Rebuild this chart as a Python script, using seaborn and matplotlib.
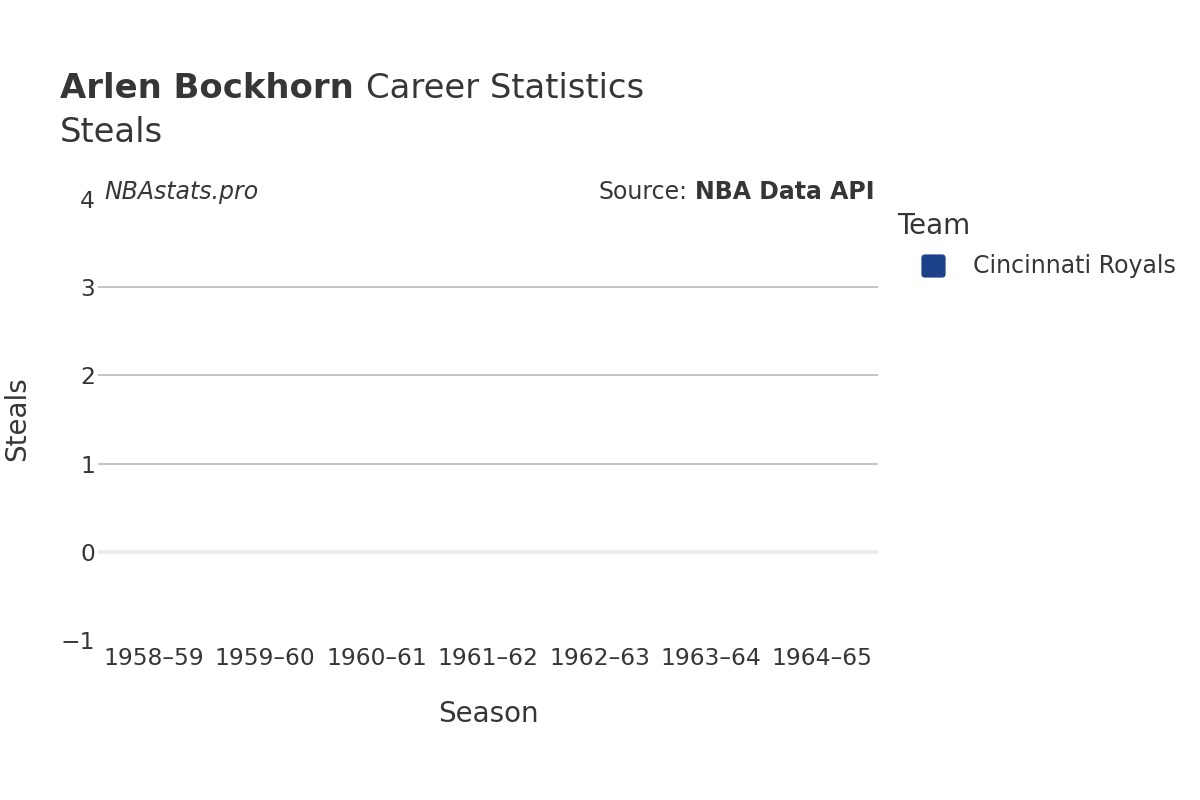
import matplotlib
matplotlib.use("Agg")
import matplotlib.pyplot as plt
from matplotlib.patches import FancyBboxPatch
import pandas as pd
import seaborn as sns

# Data (steals were not recorded in this era -> all zero)
SEASONS = ["1958–59", "1959–60", "1960–61", "1961–62", "1962–63", "1963–64", "1964–65"]
STEALS = [0, 0, 0, 0, 0, 0, 0]
TEAMS = ["Cincinnati Royals"] * 7
TEAM_COLOR = "#1d428a"
TEXT = "#363636"

df = pd.DataFrame({"Season": SEASONS, "Steals": STEALS, "Team": TEAMS})

sns.set_theme(style="white")
plt.rcParams["font.family"] = ["DejaVu Sans"]

fig = plt.figure(figsize=(12, 8), dpi=100)
ax = fig.add_axes([98 / 1200, 160 / 800, 780 / 1200, 441 / 800])

sns.barplot(
    data=df,
    x="Season",
    y="Steals",
    hue="Team",
    palette={"Cincinnati Royals": TEAM_COLOR},
    order=SEASONS,
    width=0.8,
    linewidth=0,
    legend=False,
    ax=ax,
)

ax.set_ylim(-1, 4)
ax.set_xlim(-0.5, len(SEASONS) - 0.5)
ax.set_yticks([-1, 0, 1, 2, 3, 4])
for y in [1, 2, 3]:
    ax.axhline(y, color="#bdbdbd", lw=1.3, zorder=0)
ax.axhline(0, color="#ececec", lw=3, zorder=5)
for s in ax.spines.values():
    s.set_visible(False)
ax.tick_params(axis="both", length=0, labelsize=16.8, colors=TEXT)
ax.tick_params(axis="x", pad=5)
ax.tick_params(axis="y", pad=2)
ax.set_xlabel("Season", fontsize=20, color=TEXT, labelpad=22)
ax.set_ylabel("")
fig.text(17 / 1200, 1 - 419 / 800, "Steals", fontsize=20, color=TEXT,
         rotation=90, va="center", ha="center")

# titles
fig.text(60 / 1200, 1 - 88 / 800, "Arlen Bockhorn", fontsize=24.4, fontweight="bold",
         color=TEXT, va="center", ha="left")
fig.text(366 / 1200, 1 - 88 / 800, "Career Statistics", fontsize=24.4,
         color=TEXT, va="center", ha="left")
fig.text(60 / 1200, 1 - 132 / 800, "Steals", fontsize=24.4, color=TEXT,
         va="center", ha="left")

fig.text(104 / 1200, 1 - 192 / 800, "NBAstats.pro", fontsize=17, style="italic",
         color=TEXT, va="center", ha="left")
fig.text(874 / 1200, 1 - 192 / 800, "NBA Data API", fontsize=17, fontweight="bold",
         color=TEXT, va="center", ha="right")
fig.text(688 / 1200, 1 - 192 / 800, "Source:", fontsize=17,
         color=TEXT, va="center", ha="right")

# legend (drawn by hand to match the rounded swatch)
fig.text(897 / 1200, 1 - 226 / 800, "Team", fontsize=20, color=TEXT,
         va="center", ha="left")
fig.patches.append(FancyBboxPatch(
    (925 / 1200, 1 - 274 / 800), 17 / 1200, 16 / 800,
    boxstyle="round,pad=0.003", transform=fig.transFigure,
    facecolor=TEAM_COLOR, edgecolor=TEAM_COLOR, linewidth=0,
    mutation_aspect=1.5, figure=fig,
))
fig.text(973 / 1200, 1 - 266 / 800, TEAMS[0], fontsize=17, color=TEXT,
         va="center", ha="left")

fig.savefig("out.png", dpi=100)
